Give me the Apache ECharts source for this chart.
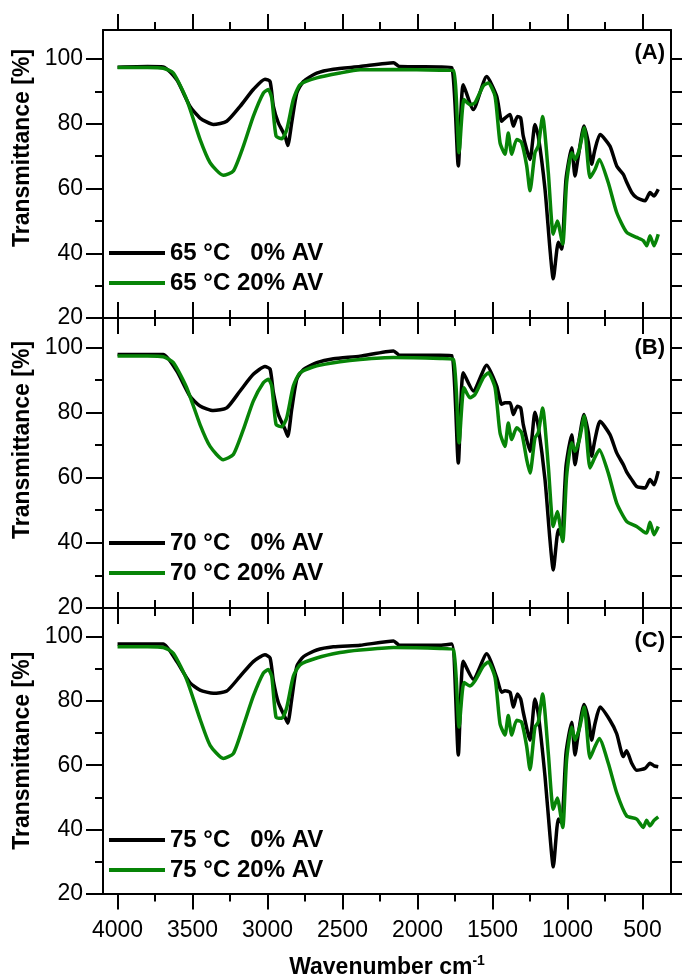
<!DOCTYPE html>
<html>
<head>
<meta charset="utf-8">
<script src="https://cdn.jsdelivr.net/npm/echarts@6/dist/echarts.min.js"></script>
<style>
html, body { margin: 0; padding: 0; background: #fff; }
#ftir { width: 682px; height: 980px; }
</style>
</head>
<body>
<div id="ftir"></div>
<script>
// wavenumbers (cm-1) where the curves were read
const wnBlack = [4000, 3800, 3695, 3605, 3517, 3450, 3361, 3272, 3183, 3095, 3017, 2983, 2961, 2928, 2883, 2865, 2839, 2805, 2761, 2672, 2561, 2383, 2160, 2120, 1850,
  1772, 1728, 1695, 1628, 1539, 1472, 1439, 1417, 1383, 1361, 1334, 1312, 1295, 1250, 1217, 1195, 1150, 1117, 1095, 1061, 1039, 1010, 972, 950, 928, 890, 861, 839, 817, 783, 717, 672, 628, 606, 572, 539, 483, 450, 423, 395]
const wnGreen = [4000, 3800, 3695, 3628, 3539, 3450, 3383, 3295, 3228, 3161, 3095, 3028, 2995, 2972, 2943, 2905, 2872, 2828, 2783, 2672, 2517, 2383, 2160, 1850,
  1761, 1723, 1690, 1650, 1617, 1561, 1528, 1483, 1450, 1417, 1395, 1372, 1339, 1306, 1272, 1250, 1217, 1195, 1166, 1128, 1095, 1068, 1032, 1006, 972, 950, 921, 888, 850, 817, 788, 728, 672, 606, 539, 495, 472, 450, 423, 395]

// transmittance [%]
const a0 = [97.5, 97.7, 97.6, 93.6, 85.4, 81.8, 79.8, 80.8, 85.4, 90.6, 93.8, 93.1, 85.4, 80.3, 76.2, 73.3, 80.3, 89.5, 93.1, 95.7, 96.9, 97.7, 98.9, 97.7, 97.6,
  97.4, 67.0, 92.1, 84.4, 94.6, 88.5, 80.8, 81.8, 82.9, 79.3, 82.3, 81.8, 76.2, 69.0, 79.8, 76.2, 59.8, 41.3, 32.1, 43.4, 41.3, 62.9, 72.6, 63.9, 70.0, 79.3, 74.2, 67.5, 72.1, 76.7, 73.1, 67.0, 64.4, 62.0, 58.8, 57.2, 56.2, 58.8, 57.7, 59.8]
const a20 = [97.4, 97.4, 97.2, 95.7, 87.5, 75.2, 68.0, 64.1, 65.4, 73.1, 82.3, 89.5, 90.6, 88.0, 76.2, 75.4, 78.2, 87.5, 92.1, 94.2, 95.7, 96.7, 96.8, 96.6,
  96.5, 71.1, 87.5, 85.9, 86.5, 91.8, 92.6, 88.5, 74.2, 70.6, 77.2, 70.6, 75.2, 74.2, 67.0, 59.3, 71.1, 73.1, 82.3, 64.9, 45.9, 50.0, 42.9, 61.8, 71.1, 69.0, 72.1, 78.8, 63.4, 65.9, 69.0, 61.8, 52.6, 46.5, 44.9, 43.9, 42.3, 45.4, 42.3, 45.9]
const b0 = [97.8, 97.8, 97.8, 92.7, 85.0, 82.0, 80.6, 81.4, 86.6, 91.7, 94.1, 93.3, 86.1, 79.4, 74.8, 72.7, 80.9, 90.2, 93.2, 95.3, 96.5, 97.3, 98.9, 97.6, 97.6,
  97.5, 64.5, 92.2, 86.6, 94.5, 88.1, 82.5, 83.0, 83.0, 79.4, 81.9, 81.4, 76.3, 68.1, 80.1, 75.8, 59.4, 40.9, 31.7, 44.0, 42.0, 63.5, 73.2, 64.0, 70.2, 79.4, 73.8, 66.6, 71.7, 77.3, 73.2, 67.6, 64.0, 61.8, 59.4, 57.3, 56.8, 59.4, 57.8, 62.0]
const b20 = [97.3, 97.3, 97.1, 95.3, 87.6, 76.3, 69.6, 65.5, 67.1, 74.8, 83.5, 89.1, 90.2, 88.1, 76.3, 75.6, 78.4, 88.1, 92.2, 94.3, 95.6, 96.3, 96.9, 96.6,
  96.3, 70.7, 87.6, 84.5, 85.5, 90.7, 92.2, 87.6, 73.8, 69.6, 76.8, 71.7, 75.3, 73.8, 65.5, 61.4, 72.2, 73.8, 81.4, 63.5, 45.0, 49.6, 40.4, 60.4, 70.7, 68.1, 71.7, 78.9, 63.0, 66.3, 68.6, 61.4, 52.2, 46.6, 45.0, 43.5, 43.0, 46.3, 42.5, 45.0]
const c0 = [97.8, 97.8, 97.8, 92.3, 85.7, 83.4, 82.4, 83.1, 87.7, 92.3, 94.4, 93.4, 86.2, 79.5, 74.9, 73.1, 80.5, 90.8, 93.8, 95.9, 96.9, 97.4, 98.7, 97.4, 97.4,
  97.8, 63.2, 92.4, 86.8, 94.7, 87.3, 82.7, 83.2, 82.7, 78.1, 82.2, 80.6, 76.5, 67.8, 80.6, 76.0, 56.5, 38.1, 28.3, 43.2, 42.0, 63.7, 73.4, 63.2, 69.8, 78.9, 74.5, 67.8, 72.9, 78.1, 74.0, 69.8, 62.7, 64.5, 60.6, 58.4, 59.0, 60.6, 59.8, 59.5]
const c20 = [96.9, 96.9, 96.7, 94.9, 86.7, 74.4, 66.2, 62.1, 63.6, 72.3, 81.5, 88.7, 89.8, 87.7, 74.9, 74.6, 78.0, 87.7, 91.3, 93.4, 95.1, 95.9, 96.7, 96.4,
  96.0, 71.9, 85.8, 84.7, 86.3, 90.9, 92.2, 87.3, 72.9, 69.4, 75.5, 69.4, 74.0, 73.4, 65.8, 58.6, 71.9, 73.4, 82.2, 63.7, 46.3, 49.8, 40.6, 61.7, 71.9, 67.8, 71.4, 78.1, 62.2, 65.8, 68.3, 60.6, 51.4, 44.2, 43.2, 40.6, 42.8, 41.1, 42.8, 43.9]

const panels = [
  { label: '(A)', names: ['65 °C   0% AV', '65 °C 20% AV'], black: a0, green: a20 },
  { label: '(B)', names: ['70 °C   0% AV', '70 °C 20% AV'], black: b0, green: b20 },
  { label: '(C)', names: ['75 °C   0% AV', '75 °C 20% AV'], black: c0, green: c20 }
]

const xMajorTicks = [500, 1000, 1500, 2000, 2500, 3000, 3500, 4000]
const xMinorTicks = [750, 1250, 1750, 2250, 2750, 3250, 3750]
const yMajorTicks = [20, 40, 60, 80, 100]
const yMinorTicks = [30, 50, 70, 90]
const yRightTicks = [20, 30, 40, 50, 60, 70, 80, 90, 100]

const FONT = 'Liberation Sans, Arial, sans-serif'
const GREEN = '#078407'
const gridTops = [30, 318, 608]
const gridHeights = [288, 290, 289]
const legendTops = [241, 531, 828]
const labelTops = [42, 337, 630]
const nameShift = [52, 46, 0]

const lineBlack = { color: '#000', width: 2 }

function xAxisFor(g, position, ticks, len, showLine, labels) {
  return {
    type: 'value', gridIndex: g, position: position, inverse: true, min: 310, max: 4097,
    axisLine: { show: showLine, onZero: false, lineStyle: lineBlack },
    axisTick: { show: true, inside: false, length: len, customValues: ticks, lineStyle: lineBlack },
    axisLabel: labels
      ? { show: true, customValues: xMajorTicks, formatter: v => String(v), color: '#000', fontSize: 23, fontFamily: FONT, margin: 26 }
      : { show: false },
    splitLine: { show: false }
  }
}

const xAxes = []
const yAxes = []
const grids = []
const legends = []
const titles = []
const series = []

panels.forEach((p, g) => {
  grids.push({ left: 103, right: 11, top: gridTops[g], height: gridHeights[g] })
  const bottomX = xAxisFor(g, 'bottom', xMajorTicks, 16, true, g === 2)
  if (g === 2) {
    bottomX.name = '{m|Wavenumber cm}{s|-1}'
    bottomX.nameLocation = 'middle'
    bottomX.nameGap = 61
    bottomX.nameTextStyle = {
      rich: {
        m: { fontSize: 23, fontWeight: 'bold', fontFamily: FONT, color: '#000' },
        s: { fontSize: 14, fontWeight: 'bold', fontFamily: FONT, color: '#000', padding: [0, 0, 12, 0] }
      }
    }
  }
  xAxes.push(bottomX)
  xAxes.push(xAxisFor(g, 'bottom', xMinorTicks, 8, false, false))
  xAxes.push(xAxisFor(g, 'top', xMajorTicks, 16, true, false))
  xAxes.push(xAxisFor(g, 'top', xMinorTicks, 8, false, false))

  yAxes.push({
    type: 'value', gridIndex: g, position: 'left', min: 20, max: 109,
    axisLine: { show: true, onZero: false, lineStyle: lineBlack },
    axisTick: { show: true, length: 17, customValues: yMajorTicks, lineStyle: lineBlack },
    axisLabel: { customValues: yMajorTicks, color: '#000', fontSize: 23, fontFamily: FONT, margin: 20 },
    splitLine: { show: false },
    name: 'Transmittance [%]',
    nameLocation: 'middle',
    nameGap: 69,
    nameTextStyle: { fontSize: 23, fontWeight: 'bold', fontFamily: FONT, color: '#000', padding: [0, 0, 0, nameShift[g]] }
  })
  yAxes.push({
    type: 'value', gridIndex: g, position: 'left', min: 20, max: 109,
    axisLine: { show: false },
    axisTick: { show: true, length: 8, customValues: yMinorTicks, lineStyle: lineBlack },
    axisLabel: { show: false },
    splitLine: { show: false }
  })
  yAxes.push({
    type: 'value', gridIndex: g, position: 'right', min: 20, max: 109,
    axisLine: { show: true, onZero: false, lineStyle: lineBlack },
    axisTick: { show: true, length: 11, customValues: yRightTicks, lineStyle: lineBlack },
    axisLabel: { show: false },
    splitLine: { show: false }
  })

  legends.push({
    data: p.names, orient: 'vertical', left: 109, top: legendTops[g],
    icon: 'rect', itemWidth: 56, itemHeight: 4, itemGap: 6, padding: 0,
    textStyle: { fontSize: 24, fontWeight: 'bold', fontFamily: FONT, color: '#000', lineHeight: 24 }
  })
  titles.push({
    text: p.label, right: 17, top: labelTops[g], padding: 0,
    textStyle: { fontSize: 22, fontWeight: 'bold', fontFamily: FONT, color: '#000' }
  })

  series.push({
    name: p.names[0], type: 'line', xAxisIndex: 4 * g, yAxisIndex: 3 * g,
    data: wnBlack.map((w, i) => [w, p.black[i]]),
    symbol: 'none', smooth: 0.2, color: '#000',
    lineStyle: { color: '#000', width: 3.5 }
  })
  series.push({
    name: p.names[1], type: 'line', xAxisIndex: 4 * g, yAxisIndex: 3 * g,
    data: wnGreen.map((w, i) => [w, p.green[i]]),
    symbol: 'none', smooth: 0.2, color: GREEN,
    lineStyle: { color: GREEN, width: 3.5 }
  })
})

const chart = echarts.init(document.getElementById('ftir'))
chart.setOption({
  animation: false,
  backgroundColor: '#fff',
  textStyle: { fontFamily: FONT },
  title: titles,
  legend: legends,
  grid: grids,
  xAxis: xAxes,
  yAxis: yAxes,
  series: series
})
</script>
</body>
</html>
